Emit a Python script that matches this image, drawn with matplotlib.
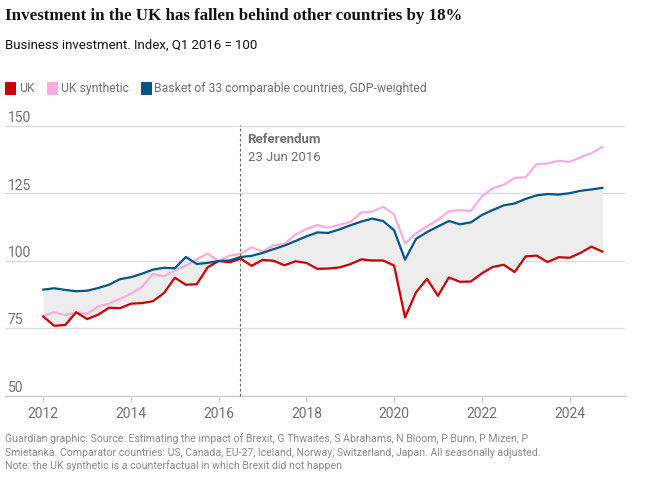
import matplotlib
matplotlib.use("Agg")
import matplotlib.pyplot as plt
import numpy as np
import pandas as pd
from matplotlib.transforms import offset_copy

# ---------------- data ----------------
quarters = pd.period_range("2012Q1", "2024Q4", freq="Q")

uk = [79.4, 76.0, 76.3, 81.0, 78.5, 80.1, 82.7, 82.5, 84.2, 84.4,
      85.1, 88.1, 93.8, 91.2, 91.4, 97.7, 100.0, 99.5, 100.9, 98.2,
      100.4, 100.1, 98.4, 99.9, 99.3, 97.1, 97.2, 97.6, 98.8, 100.6,
      100.2, 100.2, 98.3, 79.1, 88.4, 93.4, 87.1, 93.9, 92.3, 92.4,
      95.4, 97.8, 98.6, 95.9, 101.7, 102.0, 99.6, 101.4, 101.2, 103.0,
      105.3, 103.5]

uk_synthetic = [79.8, 81.0, 80.0, 81.0, 80.4, 83.2, 84.2, 86.0, 87.9, 90.4,
                95.2, 94.3, 96.5, 98.3, 100.7, 102.7, 100.0, 102.0, 102.6, 105.1,
                103.5, 105.8, 106.3, 109.8, 111.9, 113.3, 112.3, 113.4, 114.4, 118.0,
                118.3, 120.1, 117.3, 106.5, 110.2, 112.9, 115.2, 118.4, 118.9, 118.5,
                123.9, 126.9, 128.2, 130.8, 131.0, 135.9, 136.1, 137.1, 136.7, 138.4,
                139.9, 142.2]

basket = [89.4, 89.9, 89.3, 88.8, 89.0, 90.0, 91.2, 93.3, 94.0, 95.3,
          96.8, 97.5, 97.3, 101.5, 98.9, 99.3, 100.0, 100.2, 101.5, 101.9,
          103.0, 104.4, 105.7, 107.4, 109.1, 110.6, 110.4, 111.7, 113.2, 114.6,
          115.7, 114.8, 111.4, 100.5, 108.2, 110.7, 112.8, 114.8, 113.6, 114.3,
          117.0, 118.9, 120.6, 121.3, 123.0, 124.3, 124.8, 124.6, 125.1, 126.0,
          126.5, 127.1]

y_ticks = [50, 75, 100, 125, 150]
x_ticks = [2012, 2014, 2016, 2018, 2020, 2022, 2024]
referendum = 2016 + (pd.Timestamp("2016-06-23").dayofyear - 1) / 366

title = "Investment in the UK has fallen behind other countries by 18%"
subtitle = "Business investment. Index, Q1 2016 = 100"
legend_labels = ["UK", "UK synthetic", "Basket of 33 comparable countries, GDP-weighted"]
footer = ["Guardian graphic. Source: Estimating the impact of Brexit, G Thwaites, S Abrahams, N Bloom, P Bunn, P Mizen, P",
          "Smietanka. Comparator countries: US, Canada, EU-27, Iceland, Norway, Switzerland, Japan. All seasonally adjusted.",
          "Note: the UK synthetic is a counterfactual in which Brexit did not happen"]

# ---------------- style ----------------
RED = "#c70000"
PINK = "#ffabdb"
BLUE = "#005689"
FILL = "#ededed"
GRID = "#dcdcdc"
GREY = "#707070"
SANS = ["Roboto", "DejaVu Sans"]
SERIF = ["Liberation Serif", "DejaVu Serif"]

W, H = 645, 490
fig = plt.figure(figsize=(W / 100, H / 100), dpi=100)
fig.patch.set_facecolor("white")


def fx(px):
    return px / W


def fy(py):
    return 1 - py / H


ax = fig.add_axes([fx(5), fy(396), fx(625) - fx(5), fy(126) - fy(396)])
x = np.array([q.year + (q.quarter - 1) / 4 for q in quarters])

ax.fill_between(x, basket, uk, color=FILL, lw=0, zorder=1)
ax.plot(x, uk_synthetic, color=PINK, lw=1.6, zorder=3)
ax.plot(x, uk, color=RED, lw=1.6, zorder=4)
ax.plot(x, basket, color=BLUE, lw=1.6, zorder=5)

ax.set_xlim(2012 - 38.3 / 43.85, 2012 + 581.7 / 43.85)
ax.set_ylim(50, 150)

for s in ["top", "right", "left"]:
    ax.spines[s].set_visible(False)
ax.spines["bottom"].set_color("#cccccc")
ax.spines["bottom"].set_linewidth(1.0)

ax.set_yticks(y_ticks)
ax.set_yticklabels([])
ax.tick_params(axis="y", length=0)
ax.grid(axis="y", color=GRID, lw=1.0, zorder=0)
ax.set_axisbelow(True)

ytr = offset_copy(ax.get_yaxis_transform(), fig=fig, x=3, y=4, units="dots")
for v in y_ticks:
    ax.text(0, v, str(v), transform=ytr, ha="left", va="baseline",
            fontsize=10, color=GREY, family=SANS)

ax.set_xticks(x_ticks)
ax.set_xticklabels([str(t) for t in x_ticks], fontsize=10, color=GREY, family=SANS)
ax.tick_params(axis="x", length=4, width=0.8, color="#cccccc", pad=4)

ax.axvline(referendum, ymin=0, ymax=1.005, color="#666666", lw=0.8,
           ls=(0, (2.5, 2)), zorder=6, clip_on=False)
ax.annotate("Referendum", xy=(referendum, 150), xytext=(8, -14),
            textcoords="offset pixels", ha="left", va="center",
            fontsize=9.5, color=GREY, family=SANS, fontweight="bold")
ax.annotate("23 Jun 2016", xy=(referendum, 150), xytext=(8, -32),
            textcoords="offset pixels", ha="left", va="center",
            fontsize=9.5, color=GREY, family=SANS)

# titles
fig.text(fx(5), fy(16), title, ha="left", va="center", fontsize=12.2,
         color="#121212", family=SERIF, fontweight="bold")
fig.text(fx(5), fy(45), subtitle, ha="left", va="center", fontsize=9.5,
         color="#121212", family=SANS)

# legend (entries laid out one after another)
colors = [RED, PINK, BLUE]
renderer = fig.canvas.get_renderer()
px = 5
for c, l in zip(colors, legend_labels):
    fig.patches.append(plt.Rectangle((fx(px), fy(95)), fx(11), 13 / H,
                                     transform=fig.transFigure, color=c, lw=0))
    t = fig.text(fx(px + 14), fy(88.5), l, ha="left", va="center", fontsize=8.8,
                 color=GREY, family=SANS)
    px = px + 14 + t.get_window_extent(renderer).width + 12

for i, line in enumerate(footer):
    fig.text(fx(5), fy(439 + 13.5 * i), line, ha="left", va="center",
             fontsize=7.6, color="#8a8a8a", family=SANS)

fig.savefig("out.png", dpi=100, facecolor="white")
